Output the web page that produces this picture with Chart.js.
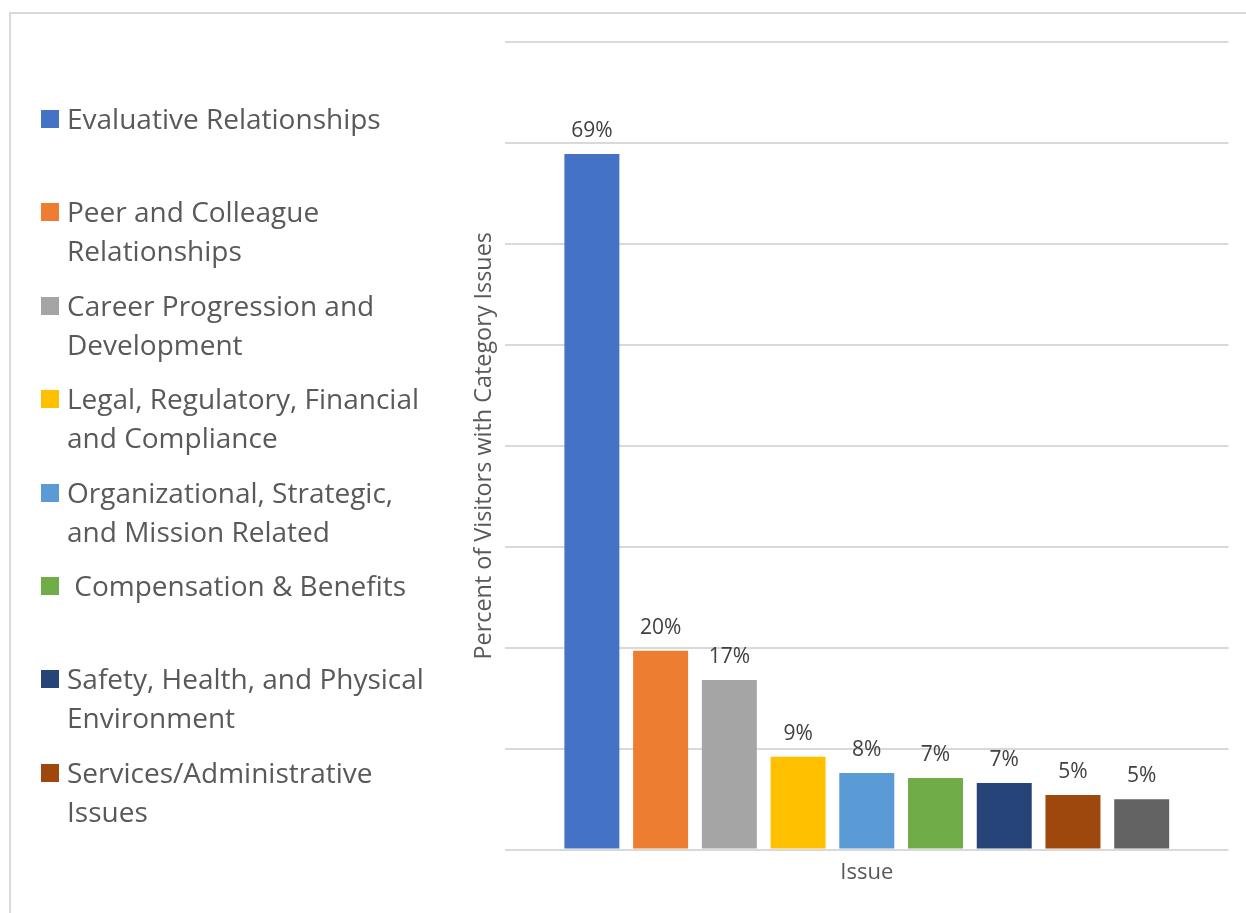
<!DOCTYPE html>
<html>
<head>
<meta charset="utf-8">
<script src="https://cdn.jsdelivr.net/npm/chart.js@4"></script>
<style>
    body { margin: 0; background: #fff; font-family: 'Open Sans', sans-serif; }
    #wrap { position: relative; width: 1246px; height: 913px; overflow: hidden; }
    #frame { position: absolute; left: 9px; top: 12px; width: 1300px; height: 1000px; border: 2px solid #d9d9d9; }
    #myChart { position: absolute; left: 0; top: 0; }
    #legend { position: absolute; left: 41px; top: 99px; color: #595959; font-size: 28px; }
    .item { position: relative; height: 93.4px; }
    .box { position: absolute; left: 0; top: 11px; width: 18px; height: 18px; }
    .txt { position: absolute; left: 26px; top: 0; line-height: 39px; white-space: pre; }
</style>
</head>
<body>
<div id="wrap">
    <div id="frame"></div>
    <canvas id="myChart" width="1246" height="913"></canvas>
    <div id="legend"></div>
</div>
<script>
const categories = ['Issue'];

const seriesNames = [
    ['Evaluative Relationships'],
    ['Peer and Colleague', 'Relationships'],
    ['Career Progression and', 'Development'],
    ['Legal, Regulatory, Financial', 'and Compliance'],
    ['Organizational, Strategic,', 'and Mission Related'],
    [' Compensation & Benefits'],
    ['Safety, Health, and Physical', 'Environment'],
    ['Services/Administrative', 'Issues'],
    ['Other']
];

// percent of visitors, one value per series
const seriesValues = [68.9, 19.7, 16.8, 9.2, 7.6, 7.1, 6.6, 5.4, 5.0];

const seriesColors = ['#4472C4', '#ED7D31', '#A5A5A5', '#FFC000', '#5B9BD5',
                      '#70AD47', '#264478', '#9E480E', '#636363'];

const yTicks = [0, 10, 20, 30, 40, 50, 60, 70, 80];

// only the first 8 entries fit in the legend box
const legendShown = 8;

const legendEl = document.getElementById('legend');
seriesNames.slice(0, legendShown).forEach((lines, i) => {
    const item = document.createElement('div');
    item.className = 'item';
    item.innerHTML = '<div class="box" style="background:' + seriesColors[i] + '"></div>' +
        '<div class="txt">' + lines.join('\n').replace(/&/g, '&amp;') + '</div>';
    legendEl.appendChild(item);
});

const valueLabels = {
    id: 'valueLabels',
    afterDatasetsDraw(chart) {
        const ctx = chart.ctx;
        ctx.save();
        ctx.font = '21px "Open Sans"';
        ctx.fillStyle = '#404040';
        ctx.textAlign = 'center';
        ctx.textBaseline = 'alphabetic';
        chart.data.datasets.forEach((ds, i) => {
            const bar = chart.getDatasetMeta(i).data[0];
            ctx.fillText(Math.round(ds.data[0]) + '%', bar.x, bar.y - 17);
        });
        ctx.restore();
    }
};

const ctx = document.getElementById('myChart').getContext('2d');
const myChart = new Chart(ctx, {
    type: 'bar',
    data: {
        labels: categories,
        datasets: seriesNames.map((lines, i) => ({
            label: lines.join(' ').trim(),
            data: [seriesValues[i]],
            backgroundColor: seriesColors[i],
            categoryPercentage: 0.855,
            barPercentage: 0.8
        }))
    },
    options: {
        responsive: false,
        animation: false,
        layout: { padding: { left: 466, top: 42, right: 17.5, bottom: 17 } },
        plugins: {
            legend: { display: false },
            tooltip: { enabled: false }
        },
        scales: {
            x: {
                grid: { display: false, drawTicks: false },
                border: { display: false },
                ticks: { color: '#595959', font: { family: 'Open Sans', size: 22 }, padding: 10 }
            },
            y: {
                min: 0,
                max: 80,
                afterBuildTicks: axis => { axis.ticks = yTicks.map(v => ({ value: v })); },
                ticks: { display: false },
                grid: { color: '#d9d9d9', lineWidth: 2, drawTicks: false },
                border: { display: false },
                title: {
                    display: true,
                    text: 'Percent of Visitors with Category Issues',
                    color: '#595959',
                    font: { family: 'Open Sans', size: 23.4 },
                    padding: { top: 4, bottom: 7 }
                }
            }
        }
    },
    plugins: [valueLabels]
});
</script>
</body>
</html>
